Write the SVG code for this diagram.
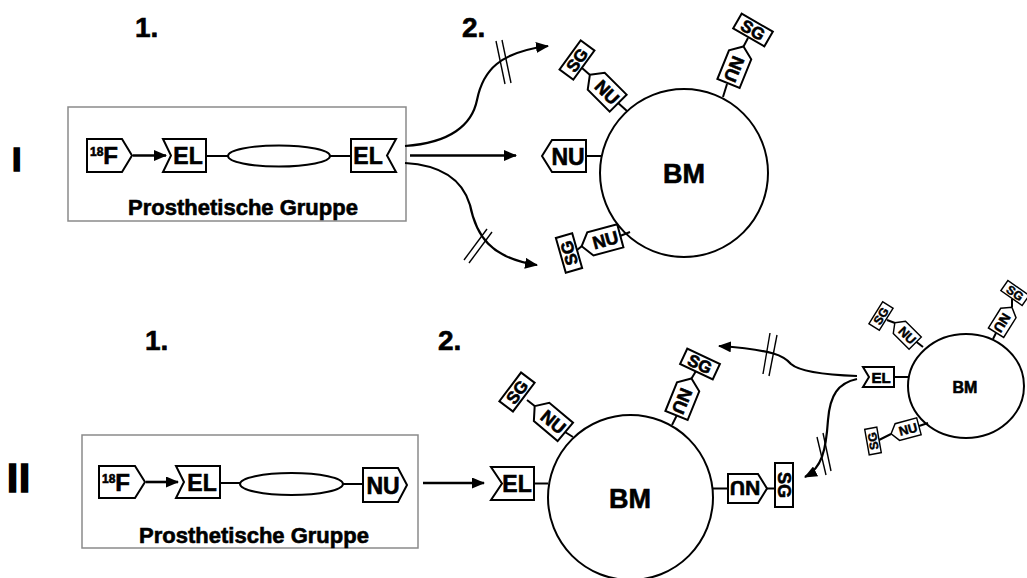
<svg xmlns="http://www.w3.org/2000/svg" width="1027" height="578" viewBox="0 0 1027 578">
<style>
.t{font-family:"Liberation Sans",Arial,sans-serif;font-weight:bold;fill:#000;stroke:#000;stroke-width:0.6}
.big{stroke-width:1.6}
.s{fill:#fff;stroke:#000;stroke-width:2;stroke-linejoin:miter}
.ln{stroke:#000;stroke-width:2;fill:none}
.cv{stroke:#000;stroke-width:2.2;fill:none}
.ar{stroke:#000;stroke-width:2.6;fill:none}
.sl{stroke:#000;stroke-width:1.4;fill:none}
.box{fill:none;stroke:#8a8a8a;stroke-width:1.5}
</style>
<defs>
<marker id="ah" markerUnits="userSpaceOnUse" markerWidth="13" markerHeight="11" refX="12" refY="5.5" orient="auto" viewBox="0 0 13 11">
<path d="M0,0 L13,5.5 L0,11 Z" fill="#000"/>
</marker>
<g id="nu">
<path class="s" d="M-20,0 L-11,-12 L20,-12 L20,12 L-11,12 Z"/>
<text class="t" x="4.5" y="6.5" font-size="18" text-anchor="middle">NU</text>
</g>
<g id="sg">
<rect class="s" x="-18" y="-8.5" width="36" height="17"/>
<text class="t" x="0" y="6" font-size="17" text-anchor="middle">SG</text>
</g>
</defs>
<rect width="1027" height="578" fill="#fff"/>

<g id="labels">
<text class="t" x="135" y="37" font-size="28">1.</text>
<text class="t" x="462" y="37" font-size="28">2.</text>
<text class="t big" x="12" y="171" font-size="34">I</text>
<text class="t" x="145" y="350" font-size="28">1.</text>
<text class="t" x="438" y="350" font-size="28">2.</text>
<text class="t big" x="7" y="492" font-size="40" letter-spacing="1">II</text>
</g>

<!-- Row I: prosthetic group -->
<g id="prosthetic-I">
<rect class="box" x="68" y="107" width="338" height="114"/>
<text class="t" x="243" y="215" font-size="22" text-anchor="middle">Prosthetische Gruppe</text>
</g>
<g id="f18-I">
<path class="s" d="M87,139 L122,139 L132,155.5 L122,172 L87,172 Z"/>
<text class="t" x="90" y="164" font-size="24"><tspan font-size="12" dy="-8">18</tspan><tspan dy="8">F</tspan></text>
</g>
<g id="el1-I">
<path class="s" d="M163,139 L206,139 L206,172 L163,172 L171,155.5 Z"/>
<text class="t" x="188" y="164" font-size="23" text-anchor="middle">EL</text>
</g>
<g id="linker-I">
<line class="ln" x1="206" y1="156" x2="228" y2="156"/>
<ellipse class="s" cx="279" cy="156" rx="51" ry="10.5"/>
<line class="ln" x1="330" y1="156" x2="351" y2="156"/>
</g>
<g id="el2-I">
<path class="s" d="M351,139 L396,139 L387,155.5 L396,172 L351,172 Z"/>
<text class="t" x="368" y="164" font-size="23" text-anchor="middle">EL</text>
</g>

<!-- Row I: BM -->
<g id="bm-I">
<circle class="s" cx="684" cy="173" r="84"/>
<text class="t" x="684" y="182.5" font-size="27" text-anchor="middle">BM</text>
</g>
<g id="nu-left-I">
<line class="ln" x1="586" y1="156" x2="601" y2="156"/>
<path class="s" d="M542,156 L552,140 L586,140 L586,172 L552,172 Z"/>
<text class="t" x="568" y="164.5" font-size="23" text-anchor="middle">NU</text>
</g>
<g id="nusg-ul-I">
<line class="ln" x1="627" y1="111" x2="617" y2="102"/>
<line class="ln" x1="590" y1="75" x2="582" y2="68"/>
<use href="#nu" transform="translate(604,89) rotate(45)"/>
<use href="#sg" transform="translate(577,60) rotate(-54)"/>
</g>
<g id="nusg-ur-I">
<line class="ln" x1="723" y1="97" x2="727" y2="84"/>
<line class="ln" x1="743.5" y1="46.5" x2="748" y2="38"/>
<use href="#nu" transform="translate(736,65) rotate(112)"/>
<use href="#sg" transform="translate(753,30) rotate(30)"/>
</g>
<g id="nusg-ll-I">
<line class="ln" x1="630" y1="232" x2="620" y2="236"/>
<line class="ln" x1="582" y1="246" x2="577" y2="250"/>
<use href="#nu" transform="translate(601,241) rotate(-15)"/>
<use href="#sg" transform="translate(569,253) rotate(-106)"/>
</g>

<!-- Row II: prosthetic group -->
<g id="prosthetic-II">
<rect class="box" x="82" y="435" width="336" height="113"/>
<text class="t" x="254" y="543" font-size="22" text-anchor="middle">Prosthetische Gruppe</text>
</g>
<g id="f18-II">
<path class="s" d="M99,466 L135,466 L145,482 L135,498 L99,498 Z"/>
<text class="t" x="102" y="490.5" font-size="24"><tspan font-size="12" dy="-8">18</tspan><tspan dy="8">F</tspan></text>
</g>
<g id="el-II">
<path class="s" d="M176,466 L220,466 L220,498 L176,498 L184,482 Z"/>
<text class="t" x="202" y="490.5" font-size="23" text-anchor="middle">EL</text>
</g>
<g id="linker-II">
<line class="ln" x1="220" y1="483" x2="240" y2="483"/>
<ellipse class="s" cx="291.5" cy="484" rx="51.5" ry="11"/>
<line class="ln" x1="343" y1="484" x2="363" y2="484"/>
</g>
<g id="nu-II">
<path class="s" d="M363,468 L398,468 L407,485 L398,502 L363,502 Z"/>
<text class="t" x="383" y="493.5" font-size="23" text-anchor="middle">NU</text>
</g>

<!-- Row II: big BM -->
<g id="bm-II">
<circle class="s" cx="630.5" cy="497.5" r="82.5"/>
<text class="t" x="630" y="507.5" font-size="27" text-anchor="middle">BM</text>
</g>
<g id="el-left-II">
<line class="ln" x1="534" y1="483.5" x2="548" y2="483.5"/>
<path class="s" d="M491,467 L534,467 L534,500 L491,500 L502,483.5 Z"/>
<text class="t" x="517" y="491.7" font-size="23" text-anchor="middle">EL</text>
</g>
<g id="nusg-ul-II">
<line class="ln" x1="573" y1="437" x2="565" y2="432"/>
<line class="ln" x1="534.7" y1="406" x2="527" y2="400"/>
<use href="#nu" transform="translate(550,419) rotate(40)"/>
<use href="#sg" transform="translate(517,392) rotate(-53)"/>
</g>
<g id="nusg-ur-II">
<line class="ln" x1="672" y1="425" x2="677" y2="415"/>
<line class="ln" x1="691.5" y1="378.5" x2="696" y2="371"/>
<use href="#nu" transform="translate(684,397) rotate(112)"/>
<use href="#sg" transform="translate(700,364) rotate(25)"/>
</g>
<g id="nusg-r-II">
<line class="ln" x1="713" y1="488.5" x2="728" y2="488.5"/>
<line class="ln" x1="767" y1="488.5" x2="775" y2="488.5"/>
<path class="s" d="M728,474 L758,474 L767,488.5 L758,503 L728,503 Z"/>
<text class="t" font-size="21" text-anchor="middle" transform="translate(745,488.5) rotate(180)" y="7.5">NU</text>
<rect class="s" x="775" y="463" width="18" height="44"/>
<text class="t" font-size="18" text-anchor="middle" transform="translate(784,485) rotate(90)" y="6.5">SG</text>
</g>

<!-- Row II: small BM -->
<g id="bm-small">
<ellipse class="s" cx="966" cy="386" rx="58" ry="52"/>
<text class="t" x="965" y="392.5" font-size="16" text-anchor="middle">BM</text>
</g>
<g id="el-small">
<line class="ln" x1="894" y1="377" x2="908" y2="377"/>
<path class="s" d="M863,367 L894,367 L894,387 L863,387 L869,377 Z"/>
<text class="t" x="881" y="382.5" font-size="15" text-anchor="middle">EL</text>
</g>
<g id="nusg-ul-small">
<line class="ln" x1="923" y1="347" x2="914" y2="340"/>
<line class="ln" x1="895" y1="323" x2="887" y2="320"/>
<use href="#nu" transform="translate(905,333) rotate(45) scale(0.72)"/>
<use href="#sg" transform="translate(881,316) rotate(-58) scale(0.72)"/>
</g>
<g id="nusg-ur-small">
<line class="ln" x1="993" y1="339" x2="996" y2="333"/>
<line class="ln" x1="1012" y1="307" x2="1012" y2="299"/>
<use href="#nu" transform="translate(1004,320) rotate(122) scale(0.75)"/>
<use href="#sg" transform="translate(1015,293) rotate(35) scale(0.72)"/>
</g>
<g id="nusg-ll-small">
<line class="ln" x1="928" y1="423" x2="919" y2="426"/>
<line class="ln" x1="891" y1="434" x2="879" y2="440"/>
<use href="#nu" transform="translate(905,430) rotate(-15) scale(0.72)"/>
<use href="#sg" transform="translate(873,441) rotate(-100) scale(0.72)"/>
</g>

<!-- Connectors -->
<g id="connectors">
<line class="ar" x1="133" y1="155.5" x2="166" y2="155.5" marker-end="url(#ah)"/>
<line class="ar" x1="146" y1="482" x2="178" y2="482" marker-end="url(#ah)"/>
<line class="ar" x1="410" y1="155.5" x2="516" y2="155.5" marker-end="url(#ah)"/>
<path class="cv" d="M405,146 C450,143 472,125 477,100 C483,70 500,52 548,46" marker-end="url(#ah)"/>
<path class="cv" d="M405,163 C440,165 462,178 470,205 C476,235 490,258 537,265" marker-end="url(#ah)"/>
<line class="sl" x1="496" y1="41" x2="505" y2="84"/>
<line class="sl" x1="502" y1="40" x2="511" y2="83"/>
<line class="sl" x1="464" y1="260" x2="487" y2="229"/>
<line class="sl" x1="469" y1="263" x2="492" y2="232"/>
<line class="ar" x1="423" y1="483" x2="484" y2="483" marker-end="url(#ah)"/>
<path class="cv" d="M857,376 C830,375 800,372 791,364 C784,356 775,350 719,346" marker-end="url(#ah)"/>
<path class="cv" d="M857,379 C838,383 830,395 828,420 C826,450 822,468 805,477" marker-end="url(#ah)"/>
<line class="sl" x1="770" y1="333" x2="763" y2="374"/>
<line class="sl" x1="777" y1="335" x2="769" y2="376"/>
<line class="sl" x1="817" y1="437" x2="826" y2="475"/>
<line class="sl" x1="823" y1="433" x2="831" y2="471"/>
</g>
</svg>
